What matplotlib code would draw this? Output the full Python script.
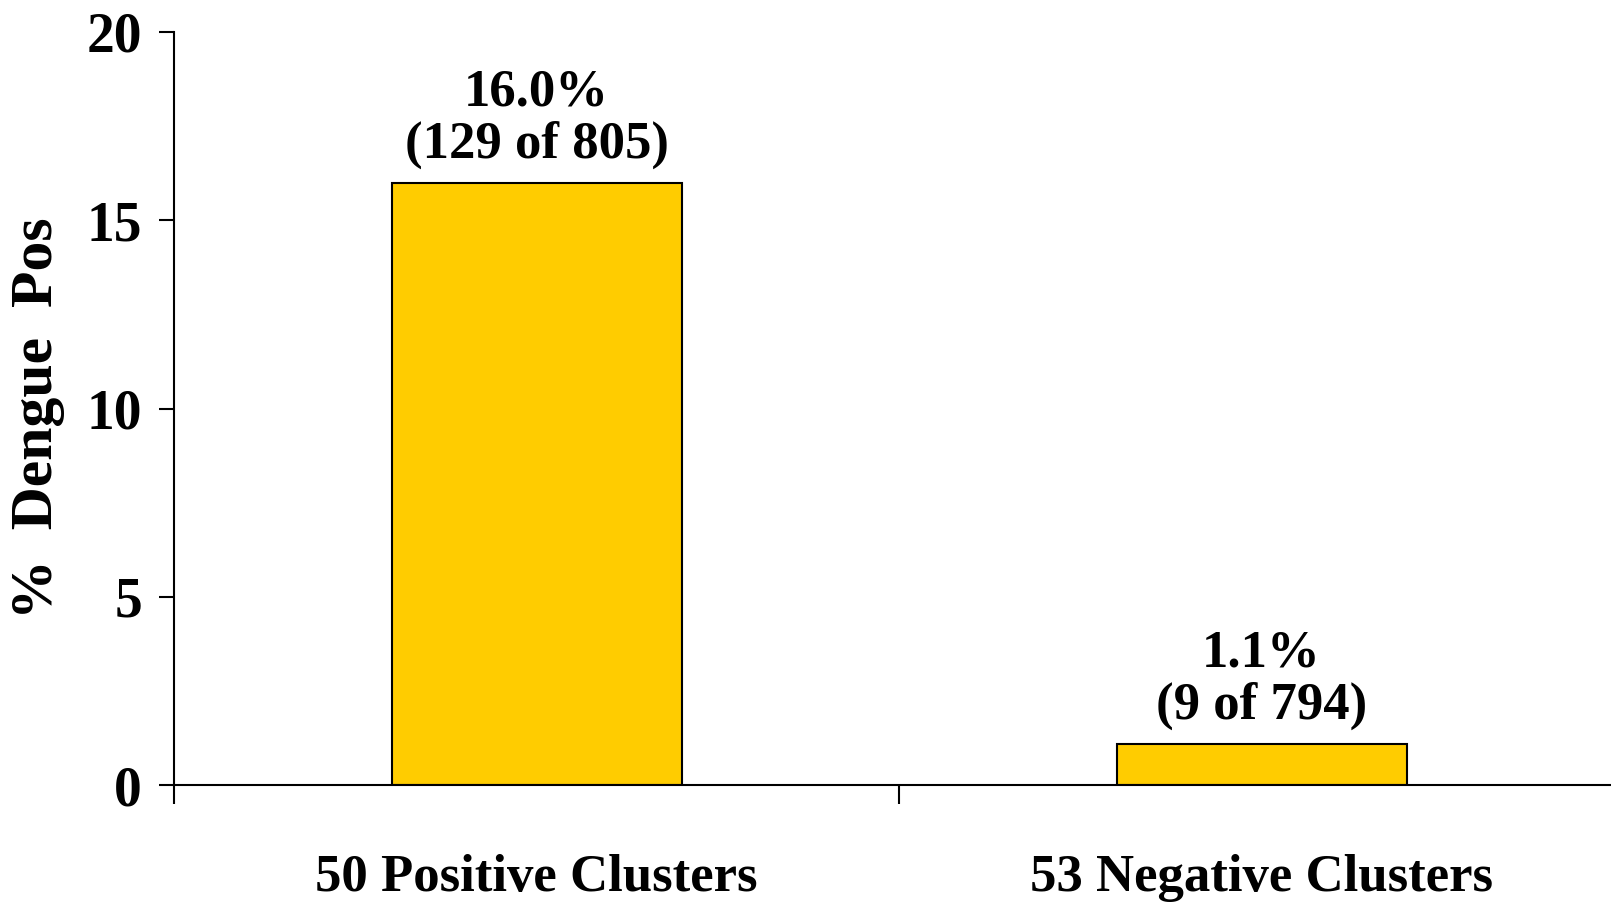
import matplotlib
matplotlib.use("Agg")
from matplotlib import pyplot as plt

categories = ["50 Positive Clusters", "53 Negative Clusters"]
percent_pos = [16.0, 1.1]
positives = [129, 9]
totals = [805, 794]

plt.rcParams["font.family"] = "Liberation Serif"
plt.rcParams["font.weight"] = "bold"

fig = plt.figure(figsize=(16.11, 9.08), dpi=100)
ax = fig.add_axes([174 / 1611, 123 / 908, 1437 / 1611, 753 / 908])

x = list(range(len(categories)))
ax.bar(x, percent_pos, width=0.4, color="#ffcc00", edgecolor="black", linewidth=1.5, zorder=2)

for xi, pct, n, tot in zip(x, percent_pos, positives, totals):
    ax.annotate(f"{pct:.1f}%\n({n} of {tot})", (xi, pct), xytext=(0, 10),
                textcoords="offset points", ha="center", va="bottom",
                fontsize=38, fontweight="bold", linespacing=1.1)

ax.set_xlim(-0.5, 1.482)
ax.set_ylim(0, 20)
ax.set_yticks([0, 5, 10, 15, 20])
ax.set_xticks([-0.5, 0.5])
ax.set_xticklabels([])
ax.set_xticks(x, minor=True)
ax.set_xticklabels(categories, minor=True, fontsize=38, fontweight="bold")
ax.tick_params(axis="x", which="minor", length=0, pad=50)
ax.tick_params(axis="x", which="major", length=14, width=1.5, direction="out")
ax.tick_params(axis="y", length=11, width=1.5, labelsize=40, pad=12)

ax.spines["top"].set_visible(False)
ax.spines["right"].set_visible(False)
ax.spines["left"].set_linewidth(1.5)
ax.spines["bottom"].set_linewidth(1.5)

ax.set_ylabel("%  Dengue  Pos", fontsize=43, fontweight="bold")
ax.yaxis.set_label_coords(-0.076, 0.487)

fig.savefig("out.png", dpi=100)
